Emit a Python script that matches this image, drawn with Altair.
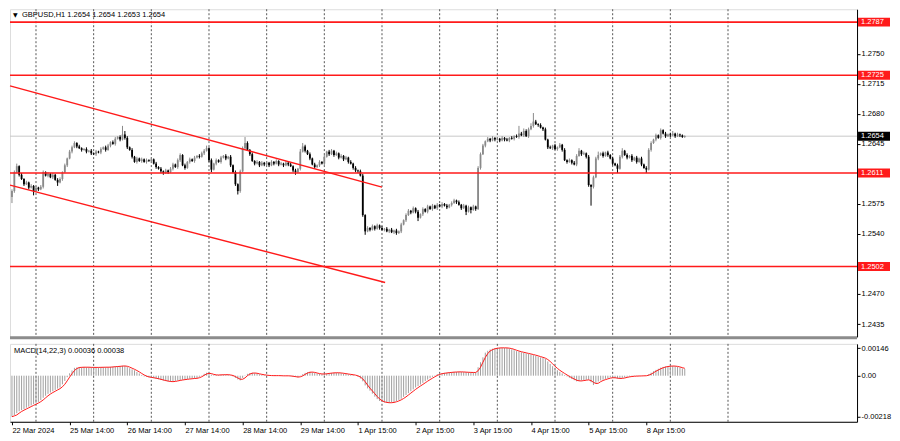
import json
import altair as alt
import pandas as pd

# ---------------- data ----------------
OPEN0 = 1.2583
CLOSE = [
    1.2590, 1.2612, 1.2619, 1.2609, 1.2604, 1.2598, 1.2600, 1.2594, 1.2596, 1.2590,
    1.2594, 1.2592, 1.2595, 1.2612, 1.2608, 1.2610, 1.2606, 1.2609, 1.2603, 1.2600,
    1.2604, 1.2612, 1.2620, 1.2628, 1.2636, 1.2641, 1.2646, 1.2642, 1.2640, 1.2638,
    1.2639, 1.2636, 1.2637, 1.2634, 1.2633, 1.2636, 1.2635, 1.2639, 1.2641, 1.2638,
    1.2643, 1.2647, 1.2645, 1.2651, 1.2653, 1.2650, 1.2656, 1.2652, 1.2641, 1.2638,
    1.2630, 1.2624, 1.2628, 1.2625, 1.2627, 1.2624, 1.2626, 1.2625, 1.2627, 1.2622,
    1.2618, 1.2616, 1.2613, 1.2611, 1.2614, 1.2612, 1.2616, 1.2621, 1.2618, 1.2626,
    1.2632, 1.2620, 1.2617, 1.2624, 1.2627, 1.2625, 1.2629, 1.2631, 1.2630, 1.2634,
    1.2637, 1.2640, 1.2626, 1.2615, 1.2622, 1.2626, 1.2624, 1.2629, 1.2631, 1.2628,
    1.2630, 1.2620, 1.2612, 1.2598, 1.2590, 1.2613, 1.2640, 1.2646, 1.2638, 1.2633,
    1.2625, 1.2622, 1.2624, 1.2620, 1.2623, 1.2621, 1.2623, 1.2620, 1.2624, 1.2622,
    1.2625, 1.2621, 1.2622, 1.2620, 1.2623, 1.2621, 1.2619, 1.2614, 1.2612, 1.2616,
    1.2636, 1.2642, 1.2637, 1.2633, 1.2628, 1.2621, 1.2618, 1.2620, 1.2624, 1.2622,
    1.2630, 1.2636, 1.2633, 1.2637, 1.2632, 1.2634, 1.2629, 1.2631, 1.2627, 1.2629,
    1.2624, 1.2622, 1.2617, 1.2614, 1.2613, 1.2608, 1.2562, 1.2543, 1.2547, 1.2545,
    1.2549, 1.2546, 1.2550, 1.2547, 1.2545, 1.2546, 1.2543, 1.2545, 1.2542, 1.2544,
    1.2541, 1.2543, 1.2551, 1.2556, 1.2562, 1.2567, 1.2565, 1.2570, 1.2566, 1.2559,
    1.2563, 1.2569, 1.2566, 1.2572, 1.2569, 1.2573, 1.2570, 1.2574, 1.2572, 1.2575,
    1.2573, 1.2571, 1.2574, 1.2576, 1.2579, 1.2577, 1.2574, 1.2570, 1.2573, 1.2566,
    1.2571, 1.2568, 1.2572, 1.2569, 1.2617, 1.2633, 1.2643, 1.2648, 1.2651, 1.2649,
    1.2652, 1.2650, 1.2651, 1.2649, 1.2652, 1.2650, 1.2649, 1.2652, 1.2651, 1.2654,
    1.2653, 1.2657, 1.2655, 1.2660, 1.2654, 1.2662, 1.2666, 1.2671, 1.2668, 1.2667,
    1.2664, 1.2662, 1.2650, 1.2641, 1.2640, 1.2643, 1.2639, 1.2641, 1.2644, 1.2638,
    1.2626, 1.2624, 1.2626, 1.2623, 1.2621, 1.2631, 1.2637, 1.2633, 1.2634, 1.2630,
    1.2597, 1.2595, 1.2606, 1.2628, 1.2632, 1.2634, 1.2631, 1.2635, 1.2632, 1.2628,
    1.2622, 1.2620, 1.2616, 1.2630, 1.2637, 1.2632, 1.2629, 1.2631, 1.2626, 1.2629,
    1.2624, 1.2628, 1.2621, 1.2617, 1.2615, 1.2638, 1.2646, 1.2650, 1.2655, 1.2652,
    1.2661, 1.2657, 1.2654, 1.2656, 1.2655, 1.2657, 1.2654, 1.2656, 1.2655, 1.2653,
    1.2654,
]
# upper / lower shadows in pips
WICK_UP = [
    2, 2, 3, 1, 2, 1, 2, 1, 2, 1,  2, 1, 2, 2, 1, 2, 1, 2, 1, 2,
    2, 1, 2, 1, 2, 2, 2, 1, 2, 1,  1, 2, 1, 2, 1, 2, 1, 2, 1, 2,
    2, 1, 2, 2, 1, 2, 10, 4, 2, 1, 2, 1, 2, 1, 2, 1, 2, 1, 2, 1,
    2, 1, 2, 1, 2, 1, 2, 2, 1, 2,  2, 1, 2, 1, 2, 1, 2, 1, 2, 2,
    2, 3, 1, 2, 1, 2, 1, 2, 1, 2,  1, 2, 1, 2, 1, 2, 2, 7, 2, 1,
    2, 1, 2, 1, 2, 1, 2, 1, 2, 1,  2, 1, 2, 1, 2, 1, 2, 1, 2, 1,
    3, 4, 2, 1, 2, 1, 2, 1, 2, 1,  2, 1, 2, 2, 1, 2, 1, 2, 1, 2,
    1, 2, 1, 2, 1, 2, 2, 1, 2, 1,  2, 1, 2, 1, 2, 1, 2, 1, 2, 1,
    2, 1, 2, 1, 2, 2, 1, 2, 1, 2,  1, 2, 1, 2, 1, 2, 1, 2, 1, 2,
    1, 2, 1, 2, 2, 1, 2, 1, 2, 1,  2, 1, 2, 1, 2, 2, 2, 1, 2, 1,
    2, 1, 2, 1, 2, 1, 2, 1, 2, 1,  2, 9, 2, 3, 2, 2, 3, 10, 2, 1,
    2, 1, 2, 1, 2, 1, 2, 1, 2, 1,  2, 1, 2, 1, 2, 2, 3, 1, 2, 1,
    2, 1, 2, 2, 4, 1, 2, 1, 2, 1,  2, 1, 2, 2, 3, 1, 2, 1, 2, 1,
    2, 1, 2, 1, 2, 2, 2, 1, 2, 1,  2, 1, 2, 1, 2, 3, 1, 2, 1, 1,
    1,
]
WICK_DN = [
    7, 2, 1, 2, 1, 2, 1, 2, 1, 5,  1, 2, 1, 2, 1, 2, 1, 2, 1, 4,
    1, 2, 1, 2, 1, 2, 1, 2, 1, 2,  1, 2, 1, 2, 1, 2, 1, 2, 1, 2,
    1, 2, 1, 2, 1, 2, 1, 2, 2, 1,  2, 1, 2, 1, 2, 1, 2, 1, 2, 1,
    2, 1, 2, 2, 1, 2, 1, 2, 1, 2,  2, 1, 2, 1, 2, 1, 2, 1, 2, 1,
    2, 1, 2, 3, 1, 2, 1, 2, 1, 2,  1, 2, 1, 2, 4, 2, 1, 2, 1, 2,
    1, 2, 1, 2, 1, 2, 1, 2, 1, 2,  1, 2, 1, 2, 1, 2, 1, 2, 3, 1,
    2, 1, 2, 1, 2, 1, 2, 1, 2, 1,  2, 1, 2, 1, 2, 1, 2, 1, 2, 1,
    2, 1, 2, 2, 2, 1, 2, 4, 1, 2,  1, 2, 1, 2, 1, 2, 1, 2, 1, 2,
    2, 1, 2, 1, 2, 1, 2, 1, 2, 4,  1, 2, 1, 2, 1, 2, 1, 2, 1, 2,
    1, 2, 1, 2, 1, 2, 1, 2, 1, 4,  1, 4, 1, 2, 1, 2, 1, 2, 1, 2,
    1, 2, 1, 2, 1, 2, 1, 2, 1, 2,  1, 2, 1, 2, 1, 2, 1, 2, 1, 2,
    1, 2, 1, 2, 1, 2, 1, 2, 1, 2,  1, 2, 1, 2, 1, 2, 1, 2, 1, 2,
    2, 22, 2, 1, 2, 1, 2, 1, 2, 1, 2, 1, 5, 1, 2, 1, 2, 1, 2, 1,
    2, 1, 2, 1, 4, 1, 2, 1, 2, 1,  2, 1, 2, 1, 2, 1, 2, 1, 2, 1,
    1,
]
# MACD main line, in units of 0.00001
MACD = [
    -219, -210, -200, -190, -184, -178, -171, -165, -159, -152,
    -146, -140, -130, -118, -107, -97, -90, -83, -76, -69,
    -63, -46, -28, -8, 13, 28, 42, 44, 45, 45,
    46, 45, 45, 44, 44, 45, 44, 45, 46, 45,
    45, 47, 48, 49, 50, 51, 53, 52, 46, 40,
    34, 29, 20, 12, 4, -4, -6, -9, -11, -13,
    -16, -19, -23, -26, -29, -31, -33, -31, -28, -25,
    -23, -21, -19, -18, -16, -15, -14, -13, -6, 2,
    10, 16, 12, 6, 3, 4, 4, 5, 6, 5,
    5, 2, -4, -12, -20, -25, -12, 2, 10, 14,
    16, 13, 10, 7, 5, 3, 1, 1, 0, 0,
    1, 0, -1, -1, 0, -1, -3, -5, -7, -9,
    -2, 8, 15, 19, 21, 18, 14, 11, 9, 8,
    10, 12, 14, 15, 16, 16, 15, 13, 11, 9,
    7, 5, 4, 0, -6, -15, -30, -52, -68, -80,
    -96, -112, -125, -135, -140, -143, -145, -145, -143, -140,
    -135, -129, -123, -113, -103, -93, -83, -73, -63, -55,
    -47, -38, -29, -21, -13, -6, 2, 8, 11, 13,
    15, 16, 18, 19, 20, 20, 21, 20, 19, 18,
    18, 17, 17, 18, 45, 72, 98, 123, 133, 140,
    144, 147, 148, 149, 149, 148, 148, 145, 141, 136,
    131, 128, 125, 122, 119, 116, 113, 110, 106, 102,
    98, 94, 89, 76, 63, 51, 38, 29, 20, 12,
    4, -4, -11, -18, -24, -30, -28, -26, -24, -22,
    -21, -35, -50, -40, -31, -25, -21, -17, -13, -9,
    -11, -13, -15, -16, -12, -9, -6, -4, -3, -2,
    -2, -1, -1, 0, 0, 8, 16, 24, 31, 37,
    43, 47, 49, 51, 52, 52, 50, 47, 43, 39,
    36,
]

LEVELS = [1.2787, 1.2725, 1.2611, 1.2502]
CURRENT = 1.2654
# price-scale labels that are not hidden behind the level boxes
PRICE_TICKS = [1.2435, 1.2470, 1.2540, 1.2575, 1.2645, 1.2680, 1.2715, 1.2750]
MACD_TICKS = [0.00146, 0.0, -0.00218]
MACD_TICK_LABELS = ["0.00146", "0.00", "-0.00218"]
GRID_BARS = [10, 34, 58, 82, 106, 130, 154, 178, 202, 226, 250, 274, 298]
DATE_BARS = [0, 24, 48, 72, 96, 120, 144, 168, 192, 216, 240, 264]
DATE_LABELS = ["22 Mar 2024", "25 Mar 14:00", "26 Mar 14:00", "27 Mar 14:00",
               "28 Mar 14:00", "29 Mar 14:00", "1 Apr 15:00", "2 Apr 15:00",
               "3 Apr 15:00", "4 Apr 15:00", "5 Apr 15:00", "8 Apr 15:00"]
# channel lines: start bar, start price, end bar, end price
CH_X0 = [-0.8, -0.8]
CH_P0 = [1.27127, 1.25969]
CH_X1 = [154.0, 155.3]
CH_P1 = [1.25946, 1.24834]
HEADER = "GBPUSD,H1  1.2654 1.2654 1.2653 1.2654"
MACD_HEADER = "MACD(14,22,3) 0.00036 0.00038"

# ---------------- layout / style ----------------
W, H1, H2 = 848, 328, 78
X_DOMAIN = [-0.815, 351.7]
Y_DOMAIN = [1.2420, 1.2802]
M_DOMAIN = [-0.00246, 0.00170]
FONT = "Liberation Sans"
FS = 7.5
RED = "#ff1a1a"
BOX = "M-1,-0.28L1,-0.28L1,0.28L-1,0.28Z"

opens = [OPEN0] + CLOSE[:-1]
rows = []
for i, c in enumerate(CLOSE):
    o = opens[i]
    rows.append(dict(idx=i, open=o, close=c,
                     high=max(o, c) + WICK_UP[i] / 1e4,
                     low=min(o, c) - WICK_DN[i] / 1e4,
                     dir="up" if c >= o else "down"))
candles = pd.DataFrame(rows)
mdf = pd.DataFrame({"idx": list(range(len(MACD))), "macd": [v / 1e5 for v in MACD]})
grid_df = pd.DataFrame({"idx": GRID_BARS})
chan_df = pd.DataFrame({"x0": CH_X0, "p0": CH_P0, "x1": CH_X1, "p1": CH_P1})
one = alt.Data(values=[{"a": 1}])

xs = alt.Scale(domain=X_DOMAIN, nice=False, zero=False)
ys = alt.Scale(domain=Y_DOMAIN, nice=False, zero=False)
ms = alt.Scale(domain=M_DOMAIN, nice=False, zero=False)
common = dict(title=None, grid=False, labelOverlap=False, tickSize=3, labelFont=FONT,
              labelFontSize=FS, labelColor="#000", tickColor="#000", domainColor="#000")
yaxis = alt.Axis(orient="right", values=PRICE_TICKS, format=".4f", labelPadding=1, **common)
maxis = alt.Axis(orient="right", values=MACD_TICKS, labelPadding=1,
                 labelExpr="datum.value > 0.0001 ? '%s' : (datum.value < -0.0001 ? '%s' : '%s')"
                 % (MACD_TICK_LABELS[0], MACD_TICK_LABELS[2], MACD_TICK_LABELS[1]), **common)
xaxis = alt.Axis(values=DATE_BARS, labelAlign="left", labelFlush=False, labelPadding=2,
                 labelExpr="%s[indexof(%s, datum.value)]" % (json.dumps(DATE_LABELS), json.dumps(DATE_BARS)),
                 **common)


def X(f):
    return alt.X(f, type="quantitative", scale=xs, axis=None)


def XM(f):
    return alt.X(f, type="quantitative", scale=xs, axis=xaxis)


def Y(f):
    return alt.Y(f, type="quantitative", scale=ys, axis=yaxis)


def YM(f):
    return alt.Y(f, type="quantitative", scale=ms, axis=maxis)


candle_color = alt.Color("dir:N", scale=alt.Scale(domain=["up", "down"], range=["#8a8a8a", "#000000"]), legend=None)

grid = alt.Chart(grid_df).mark_rule(color="#555", strokeDash=[2, 2], strokeWidth=1).encode(x=X("idx"))
current = alt.Chart(pd.DataFrame({"price": [CURRENT]})).mark_rule(color="#c8c8c8", strokeWidth=1).encode(y=Y("price"))
wick = alt.Chart(candles).mark_rule(strokeWidth=1).encode(x=X("idx"), y=Y("low"), y2="high", color=candle_color)
body = alt.Chart(candles).mark_rule(strokeWidth=1.8).encode(x=X("idx"), y=Y("open"), y2="close", color=candle_color)
levels = alt.Chart(pd.DataFrame({"price": LEVELS})).mark_rule(color=RED, strokeWidth=1.6).encode(y=Y("price"))
channel = alt.Chart(chan_df).mark_rule(color=RED, strokeWidth=1.4).encode(x=X("x0"), x2="x1", y=Y("p0"), y2="p1")
lvl_box = alt.Chart(pd.DataFrame({"price": LEVELS})).mark_point(
    shape=BOX, size=32 * 32, filled=True, opacity=1, strokeWidth=0, color=RED
).encode(x=alt.value(W + 17), y=Y("price"))
bid_box = alt.Chart(pd.DataFrame({"price": [CURRENT]})).mark_point(
    shape=BOX, size=32 * 32, filled=True, opacity=1, strokeWidth=0, color="#000"
).encode(x=alt.value(W + 17), y=Y("price"))
box_txt = alt.Chart(pd.DataFrame({"price": LEVELS + [CURRENT]})).mark_text(
    align="left", baseline="middle", color="white", font=FONT, fontSize=FS
).encode(x=alt.value(W + 4), y=Y("price"), text=alt.Text("price:Q", format=".4f"))
tri = alt.Chart(one).mark_text(align="left", baseline="middle", font="DejaVu Sans", fontSize=6, color="#000").encode(
    x=alt.value(3), y=alt.value(6), text=alt.value("▼"))
head = alt.Chart(one).mark_text(align="left", baseline="middle", font=FONT, fontSize=FS, color="#000").encode(
    x=alt.value(12), y=alt.value(6), text=alt.value(HEADER))
sep = alt.Chart(one).mark_rule(color="#8c8c8c", strokeWidth=3).encode(
    x=alt.value(0), x2=alt.value(W), y=alt.value(H1 + 1))

main = alt.layer(grid, current, wick, body, levels, channel, lvl_box, bid_box, box_txt, tri, head, sep).properties(
    width=W, height=H1)

grid_m = alt.Chart(grid_df).mark_rule(color="#555", strokeDash=[2, 2], strokeWidth=1).encode(x=XM("idx"))
hist = alt.Chart(mdf).transform_calculate(zero="0").mark_rule(color="#a0a0a0", strokeWidth=1).encode(
    x=XM("idx"), y=YM("macd"), y2="zero")
signal = alt.Chart(mdf).transform_window(sig="mean(macd)", frame=[-2, 0], sort=[{"field": "idx"}]).mark_line(
    color=RED, strokeWidth=1).encode(x=XM("idx"), y=YM("sig"))
mhead = alt.Chart(one).mark_text(align="left", baseline="middle", font=FONT, fontSize=FS, color="#000").encode(
    x=alt.value(4), y=alt.value(7), text=alt.value(MACD_HEADER))

macd = alt.layer(grid_m, hist, signal, mhead).properties(width=W, height=H2)

chart = alt.vconcat(main, macd, spacing=3).resolve_scale(x="independent", y="independent").properties(
    padding={"left": 0, "top": 0, "right": 0, "bottom": 0}
).configure_view(stroke="#000", strokeWidth=1).configure_axis(
    labelFont=FONT, labelFontSize=FS, labelColor="#000", tickColor="#000", domainColor="#000",
    domainWidth=1, tickWidth=1
).configure(background="white")

chart.save("out.html", embed_options={"renderer": "svg", "actions": False})
